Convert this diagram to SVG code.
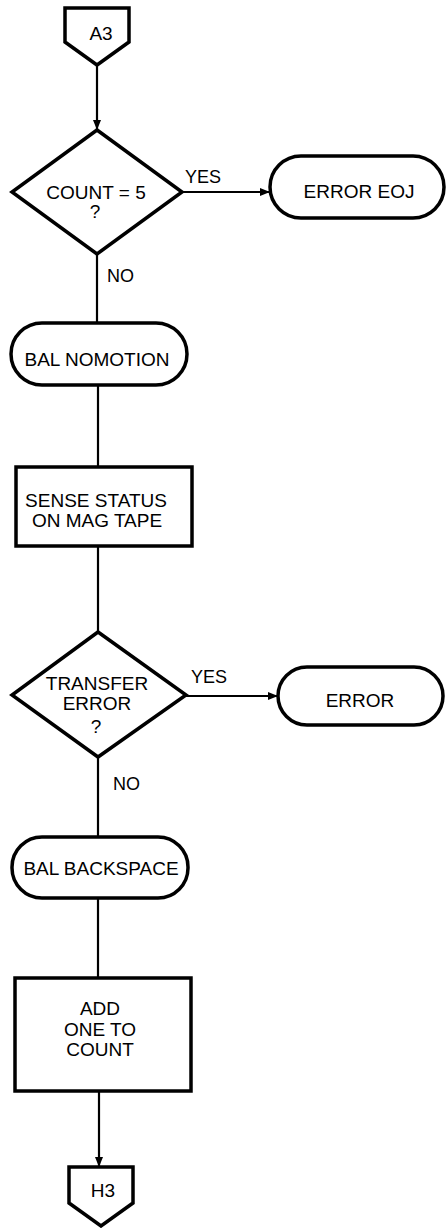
<svg xmlns="http://www.w3.org/2000/svg" width="446" height="1228" viewBox="0 0 446 1228">
<style>
.shape{fill:#fff;stroke:#000;stroke-width:3.5;stroke-linejoin:miter}
.conn{fill:none;stroke:#000;stroke-width:2.2}
text{font-family:"Liberation Sans",Arial,sans-serif;font-size:19px;fill:#000;text-anchor:middle}
.lbl{text-anchor:start;font-size:18px}
</style>
<defs>
<marker id="arr" markerUnits="userSpaceOnUse" markerWidth="10" markerHeight="10" viewBox="0 0 10 10" refX="10" refY="5" orient="auto">
<path d="M0,1 L10,5 L0,9 Z" fill="#000"/>
</marker>
</defs>
<rect width="446" height="1228" fill="#fff"/>
<g id="connectors">
<line class="conn" x1="97" y1="65" x2="97" y2="130" marker-end="url(#arr)"/>
<line class="conn" x1="183" y1="192" x2="270" y2="192" marker-end="url(#arr)"/>
<line class="conn" x1="97" y1="254" x2="97" y2="323"/>
<line class="conn" x1="98" y1="385" x2="98" y2="467"/>
<line class="conn" x1="98" y1="546" x2="98" y2="632"/>
<line class="conn" x1="186" y1="696" x2="278" y2="696" marker-end="url(#arr)"/>
<line class="conn" x1="98" y1="757" x2="98" y2="837"/>
<line class="conn" x1="98" y1="898" x2="98" y2="978"/>
<line class="conn" x1="99" y1="1091" x2="99" y2="1167" marker-end="url(#arr)"/>
<text class="lbl" x="185" y="183">YES</text>
<text class="lbl" x="107" y="282">NO</text>
<text class="lbl" x="191" y="683">YES</text>
<text class="lbl" x="113" y="790">NO</text>
</g>
<g id="a3">
<polygon class="shape" points="65,8 129,8 129,42 97,65 65,42"/>
<text x="101" y="40" font-size="18">A3</text>
</g>
<g id="count5">
<polygon class="shape" points="97,130 182,192 97,254 12,192"/>
<text x="96" y="199">COUNT = 5</text>
<text x="95" y="218" font-size="14">?</text>
</g>
<g id="erroreoj">
<rect class="shape" x="270" y="156" width="174" height="62" rx="31"/>
<text x="359" y="198">ERROR EOJ</text>
</g>
<g id="balnomotion">
<rect class="shape" x="11" y="323" width="176" height="62" rx="31"/>
<text x="97" y="366">BAL NOMOTION</text>
</g>
<g id="sense">
<rect class="shape" x="16" y="467" width="176" height="79"/>
<text x="96" y="507">SENSE STATUS</text>
<text x="97" y="527">ON MAG TAPE</text>
</g>
<g id="transfer">
<polygon class="shape" points="98,632 186,695 98,757 12,695"/>
<text x="97" y="690">TRANSFER</text>
<text x="97" y="710">ERROR</text>
<text x="96" y="733" font-size="14">?</text>
</g>
<g id="error">
<rect class="shape" x="278" y="667" width="165" height="58" rx="29"/>
<text x="360" y="707">ERROR</text>
</g>
<g id="balbackspace">
<rect class="shape" x="12" y="837" width="176" height="61" rx="30"/>
<text x="101" y="875">BAL BACKSPACE</text>
</g>
<g id="addone">
<rect class="shape" x="15" y="978" width="176" height="113"/>
<text x="100" y="1015">ADD</text>
<text x="100" y="1036">ONE TO</text>
<text x="100" y="1056">COUNT</text>
</g>
<g id="h3">
<polygon class="shape" points="69,1167 133,1167 133,1203 101,1226 69,1203"/>
<text x="103" y="1197" font-size="18">H3</text>
</g>
</svg>
